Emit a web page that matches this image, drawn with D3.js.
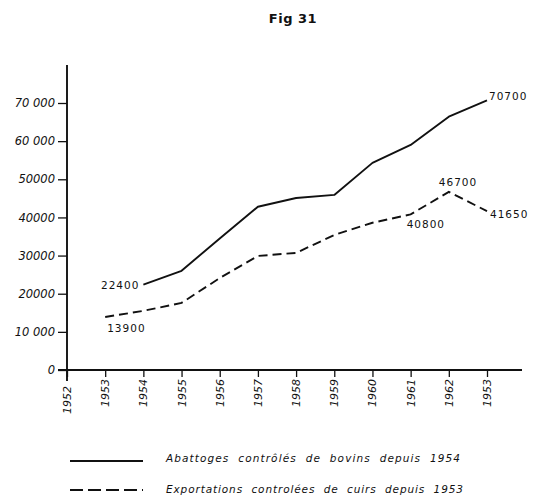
<!DOCTYPE html>
<html>
<head>
<meta charset="utf-8">
<script src="https://cdn.jsdelivr.net/npm/d3@7"></script>
<style>
  html, body { margin: 0; padding: 0; background: #fff; }
  svg { display: block; }
  text { fill: #111; }
</style>
</head>
<body>
<svg id="chart" width="533" height="501"></svg>
<script>
// ---- data ----
const axisYears = [1952, 1953, 1954, 1955, 1956, 1957, 1958, 1959, 1960, 1961, 1962, 1963];
const axisYearLabels = ["1952", "1953", "1954", "1955", "1956", "1957", "1958", "1959", "1960", "1961", "1962", "1953"];
const yTickValues = [0, 10000, 20000, 30000, 40000, 50000, 60000, 70000];
const yTickLabels = ["0", "10 000", "20000", "30000", "40000", "50000", "60 000", "70 000"];

const abattYears = [1954, 1955, 1956, 1957, 1958, 1959, 1960, 1961, 1962, 1963];
const abattValues = [22400, 26000, 34500, 42800, 45100, 45900, 54300, 59000, 66400, 70700];

const exportYears = [1953, 1954, 1955, 1956, 1957, 1958, 1959, 1960, 1961, 1962, 1963];
const exportValues = [13900, 15500, 17600, 24100, 29900, 30700, 35400, 38600, 40800, 46700, 41650];

const title = "Fig 31";
const legendLabels = ["Abattoges  contrôlés  de  bovins  depuis  1954", "Exportations  controlées  de  cuirs  depuis  1953"];

// ---- chart ----
const svg = d3.select("#chart");
const x = d3.scaleLinear().domain([1952, 1963]).range([67, 487]);
const y = d3.scaleLinear().domain([0, 70000]).range([370, 103]);

// title
svg.append("text").attr("x", 293).attr("y", 23)
  .attr("text-anchor", "middle")
  .style("font-family", "DejaVu Sans").style("font-size", "13px").style("font-weight", "bold")
  .style("letter-spacing", "0.5px")
  .text(title);

// y axis
const yAxis = d3.axisLeft(y).tickValues(yTickValues)
  .tickFormat((d, i) => yTickLabels[i]).tickSize(9).tickPadding(3);
const gy = svg.append("g").attr("transform", "translate(67,0)").call(yAxis);
gy.select(".domain").remove();
gy.selectAll(".tick line").attr("stroke", "#111").attr("stroke-width", 1.3);
gy.selectAll(".tick text")
  .style("font-family", "DejaVu Sans").style("font-style", "italic")
  .style("font-size", "11.5px").style("fill", "#111");
svg.append("line").attr("x1", 67).attr("x2", 67).attr("y1", 65).attr("y2", 381)
  .attr("stroke", "#111").attr("stroke-width", 1.9);

// x axis
const xAxis = d3.axisBottom(x).tickValues(axisYears).tickSize(7).tickFormat("");
const gx = svg.append("g").attr("transform", "translate(0,370)").call(xAxis);
gx.select(".domain").remove();
gx.selectAll(".tick line").attr("stroke", "#111").attr("stroke-width", 1.3);
svg.append("line").attr("x1", 58).attr("x2", 522).attr("y1", 370).attr("y2", 370)
  .attr("stroke", "#111").attr("stroke-width", 1.9);

svg.append("g").selectAll("text").data(axisYears).join("text")
  .attr("transform", (d, i) => `translate(${x(d) + 4},${i === 0 ? 386 : 379}) rotate(-90)`)
  .attr("text-anchor", "end")
  .style("font-family", "DejaVu Sans").style("font-style", "italic").style("font-size", "11px")
  .text((d, i) => axisYearLabels[i]);

// lines
const line = d3.line().x(d => x(d[0])).y(d => y(d[1]));
const abatt = abattYears.map((yr, i) => [yr, abattValues[i]]);
const expo = exportYears.map((yr, i) => [yr, exportValues[i]]);

svg.append("path").datum(abatt).attr("d", line)
  .attr("fill", "none").attr("stroke", "#111").attr("stroke-width", 1.9)
  .attr("stroke-linejoin", "round");
svg.append("path").datum(expo).attr("d", line)
  .attr("fill", "none").attr("stroke", "#111").attr("stroke-width", 1.9)
  .attr("stroke-dasharray", "9,5");

// value annotations
const annots = [
  { p: abatt[0], dx: -4, dy: 4, anchor: "end" },
  { p: abatt[abatt.length - 1], dx: 2, dy: 0, anchor: "start" },
  { p: expo[0], dx: 2, dy: 15, anchor: "start" },
  { p: expo[8], dx: -4, dy: 14, anchor: "start" },
  { p: expo[9], dx: -10, dy: -6, anchor: "start" },
  { p: expo[10], dx: 3, dy: 7, anchor: "start" }
];
svg.append("g").selectAll("text").data(annots).join("text")
  .attr("x", d => x(d.p[0]) + d.dx).attr("y", d => y(d.p[1]) + d.dy)
  .attr("text-anchor", d => d.anchor)
  .style("font-family", "DejaVu Sans").style("font-size", "10.5px").style("letter-spacing", "1px")
  .text(d => d.p[1]);

// legend
const legend = svg.append("g");
legend.append("line").attr("x1", 70).attr("x2", 143).attr("y1", 461).attr("y2", 461)
  .attr("stroke", "#111").attr("stroke-width", 2);
legend.append("line").attr("x1", 70).attr("x2", 143).attr("y1", 490).attr("y2", 490)
  .attr("stroke", "#111").attr("stroke-width", 2).attr("stroke-dasharray", "13,5");
legend.selectAll("text.leg").data(legendLabels).join("text").attr("class", "leg")
  .attr("x", 166).attr("y", (d, i) => 462 + i * 31)
  .attr("textLength", (d, i) => i === 0 ? 294 : 297).attr("lengthAdjust", "spacing")
  .style("font-family", "DejaVu Sans").style("font-style", "italic").style("font-size", "10.5px")
  .style("white-space", "pre")
  .text(d => d);
</script>
</body>
</html>
